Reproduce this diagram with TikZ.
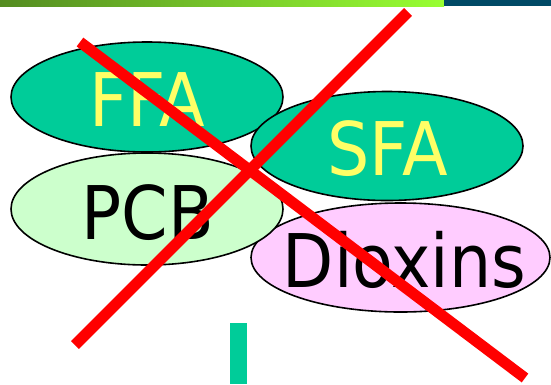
\documentclass[tikz,border=0pt]{standalone}
\usepackage{fontspec}
\newfontfamily\labfont{DejaVu Sans}[FakeStretch=0.9]
\usetikzlibrary{shapes.geometric}
\definecolor{ffagreen}{RGB}{0,204,153}
\definecolor{txtyellow}{RGB}{255,255,102}
\definecolor{pcbgreen}{RGB}{204,255,204}
\definecolor{dioxpink}{RGB}{255,204,255}
\definecolor{barleft}{RGB}{84,140,33}
\definecolor{barright}{RGB}{153,255,51}
\definecolor{barteal}{RGB}{0,74,102}
\tikzset{
  blob/.style={ellipse, draw=black, line width=1.6pt, inner sep=0pt},
  lab/.style={inner sep=0pt, font=\labfont\fontsize{74}{74}\selectfont},
  cross/.style={draw=red, line width=11pt, line cap=butt}
}
\begin{document}
\begin{tikzpicture}[x=1pt,y=-1pt]
\useasboundingbox (0,0) rectangle (551,384);
% top bar
\shade[left color=barleft, right color=barright] (0,0) rectangle (444,6);
\fill[barteal] (444,0) rectangle (551,6);
% ellipses
\node[blob, fill=ffagreen, minimum width=272pt, minimum height=110pt] (ffa) at (147,97) {};
\node[lab, text=txtyellow] (ffat) at (147.5,100) {FFA};
\node[blob, fill=ffagreen, minimum width=272pt, minimum height=109pt] (sfa) at (387,146) {};
\node[lab, text=txtyellow] (sfat) at (387.5,148.5) {SFA};
\node[blob, fill=dioxpink, minimum width=299pt, minimum height=109pt] (diox) at (400.5,257.5) {};
\node[lab, text=black] (dioxt) at (404.5,260) {Dioxins};
\node[blob, fill=pcbgreen, minimum width=272pt, minimum height=112pt] (pcb) at (147,209) {};
\node[lab, text=black] (pcbt) at (148,213) {PCB};
% green bar
\fill[ffagreen] (230,323) rectangle (247,384);
% red cross
\coordinate (a1) at (80,42);
\coordinate (a2) at (525,378);
\coordinate (b1) at (408,12);
\coordinate (b2) at (75,345);
\draw[cross] (a1) -- (a2);
\draw[cross] (b1) -- (b2);
\end{tikzpicture}
\end{document}
